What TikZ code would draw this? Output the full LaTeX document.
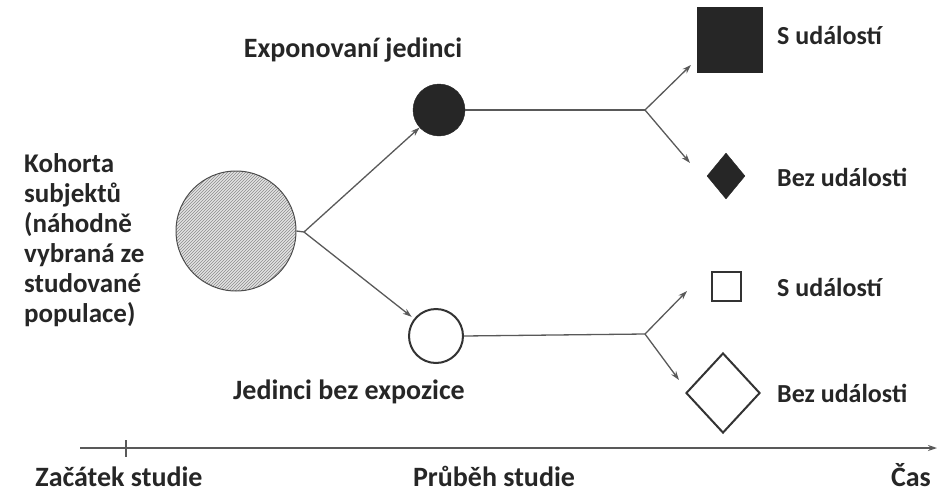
\documentclass[tikz,border=0pt]{standalone}
\usepackage{fontspec}
\setmainfont{Carlito}
\usetikzlibrary{arrows.meta,patterns,shapes.geometric}
\begin{document}
\begin{tikzpicture}[x=1pt,y=-1pt,
  lbl/.style={font=\fontsize{28}{31}\selectfont\bfseries, text=black!85, inner sep=0pt},
  rlbl/.style={lbl, font=\fontsize{26}{30}\selectfont\bfseries, anchor=west},
  conn/.style={draw=black!65, line width=1.3pt},
  arr/.style={conn, -{Stealth[length=9pt,width=6pt]}},
  darkfill/.style={fill=black!85, draw=black!85, inner sep=0pt},
  openshape/.style={draw=black!80, line width=2pt, fill=white, inner sep=0pt}]
\useasboundingbox (0,0) rectangle (946,493);

% shapes
\node[circle, minimum size=120pt, draw=black!70, line width=1pt,
      preaction={fill=gray!22}, pattern=north east lines, pattern color=black!45] (coh) at (236,231) {};
\node[circle, darkfill, minimum size=52pt] (exp) at (439,110) {};
\node[circle, openshape, minimum size=54pt] (nonexp) at (436,336) {};
\node[rectangle, darkfill, minimum size=65pt] (sq1) at (730,40) {};
\node[diamond, darkfill, minimum width=38pt, minimum height=46pt] (dia1) at (726,176) {};
\node[rectangle, openshape, minimum size=29pt] (sq2) at (726,286) {};
\node[diamond, openshape, minimum width=74pt, minimum height=80pt] (dia2) at (723,393) {};

% branch points and arrow tips
\coordinate (b0) at (304,232);
\coordinate (b1) at (645,110);
\coordinate (b2) at (645,334);
\coordinate (t1) at (691,65);
\coordinate (t2) at (690,163);
\coordinate (t3) at (687,291);
\coordinate (t4) at (679,380);

% connectors
\draw[conn] (coh.east) -- (b0);
\draw[arr] (b0) -- (exp);
\draw[arr, shorten >=3pt] (b0) -- (nonexp);
\draw[conn] (exp.east) -- (b1);
\draw[arr] (b1) -- (t1);
\draw[arr] (b1) -- (t2);
\draw[conn] (nonexp.east) -- (b2);
\draw[arr] (b2) -- (t3);
\draw[arr] (b2) -- (t4);

% labels
\node[lbl, font=\fontsize{27}{30}\selectfont\bfseries, align=left, anchor=west] (cohl) at (24,240)
  {Kohorta\\subjektů\\(náhodně\\vybraná ze\\studované\\populace)};
\node[lbl] (expl) at (353,50) {Exponovaní jedinci};
\node[lbl] (nonexpl) at (349,392) {Jedinci bez expozice};
\node[rlbl] (l1) at (777,35) {S událostí};
\node[rlbl] (l2) at (777,177) {Bez události};
\node[rlbl] (l3) at (777,287) {S událostí};
\node[rlbl] (l4) at (777,393) {Bez události};

% time axis
\coordinate (ax0) at (80,448);
\coordinate (ax1) at (937,448);
\coordinate (tk) at (126,448);
\draw[conn, -{Stealth[length=9pt,width=6pt]}] (ax0) -- (ax1);
\draw[conn] (tk) ++(0,-8) -- ++(0,17);
\node[lbl, anchor=base] (zac) at (119,486) {Začátek studie};
\node[lbl, anchor=base] (prub) at (494,486) {Průběh studie};
\node[lbl, anchor=base] (cas) at (911,486) {Čas};
\end{tikzpicture}
\end{document}
